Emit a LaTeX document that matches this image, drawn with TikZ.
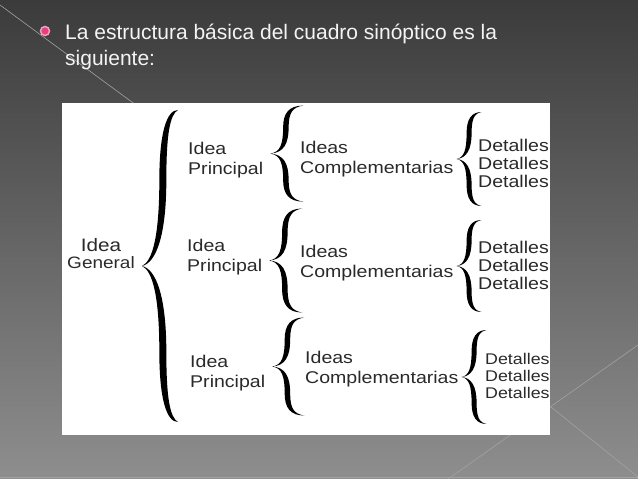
\documentclass[tikz,border=0pt]{standalone}
\usepackage{fontspec}
\setmainfont{Liberation Sans}
\newfontfamily\chartfont[FakeStretch=1.15]{Liberation Sans}
\usetikzlibrary{calc}
\definecolor{bgtop}{HTML}{3B3B3B}
\definecolor{bgbot}{HTML}{8E8E8E}
\definecolor{linegray}{HTML}{A2A2A2}
\definecolor{titlecol}{HTML}{F4F4F4}
\definecolor{chartgray}{HTML}{2A2A2A}
\definecolor{bulletpink}{HTML}{E43F7E}
\tikzset{
  % slide text and chart text
  title text/.style={inner sep=0,anchor=west,align=left,text=titlecol,font=\fontsize{21}{26}\selectfont},
  chart text/.style={inner sep=0,anchor=west,align=left,text=chartgray,font=\chartfont\fontsize{17}{20}\selectfont},
  detail text/.style={chart text,font=\chartfont\fontsize{17}{18}\selectfont},
  bullet/.style={circle,fill=bulletpink,draw=bulletpink!50!white,line width=1.5pt,minimum size=9pt,inner sep=0},
  % curly brace with its tip at the origin: width, half height, stem, stem place
  pics/curly/.style n args={4}{code={
    \fill[black] (#1,-#2)
      .. controls ({(#4+0.1)*#1},{-#2}) and ({#4*#1-0.5*#3},{-0.85*#2}) .. ({#4*#1-0.5*#3},{-0.55*#2})
      .. controls ({#4*#1-0.5*#3},{-0.2*#2}) and ({0.3*#1},{-0.03*#2}) .. (0,0)
      .. controls ({0.3*#1},{0.03*#2}) and ({#4*#1-0.5*#3},{0.2*#2}) .. ({#4*#1-0.5*#3},{0.55*#2})
      .. controls ({#4*#1-0.5*#3},{0.85*#2}) and ({(#4+0.1)*#1},{#2}) .. (#1,#2)
      .. controls ({(#4+0.2)*#1},{0.97*#2}) and ({#4*#1+0.5*#3},{0.85*#2}) .. ({#4*#1+0.5*#3},{0.55*#2})
      .. controls ({#4*#1+0.5*#3},{0.2*#2}) and ({0.4*#1},{0.02*#2}) .. (0,0)
      .. controls ({0.4*#1},{-0.02*#2}) and ({#4*#1+0.5*#3},{-0.2*#2}) .. ({#4*#1+0.5*#3},{-0.55*#2})
      .. controls ({#4*#1+0.5*#3},{-0.85*#2}) and ({(#4+0.2)*#1},{-0.97*#2}) .. (#1,-#2)
      -- cycle;
  }}
}

\begin{document}
\begin{tikzpicture}[x=1pt,y=-1pt]
  \useasboundingbox (0,0) rectangle (638,479);
  % slide background
  \shade[top color=bgtop,bottom color=bgbot] (0,0) rectangle (638,479);
  \draw[linegray,line width=0.6pt] (0,5) -- (140,108);
  \draw[linegray,line width=0.6pt] (638,345) -- (448,479);
  \draw[linegray,line width=0.6pt] (500,366) -- (638,477);
  \draw[linegray,line width=0.8pt] (0,477.5) -- (638,477.5);
  % bullet point
  \node[bullet] (dot) at (45,31) {};
  \node[title text] (title) at (65,47.4) {La estructura básica del cuadro sinóptico es la\\siguiente:};
  % the chart
  \fill[white] (62,103) rectangle (550,435);
  \node[chart text,anchor=center,align=center] (gen) at (101,254)
    {{\fontsize{18}{18}\selectfont Idea}\\[-3pt]{\fontsize{16.5}{16}\selectfont General}};
  \node[chart text] (p1) at (188,160.6) {Idea\\Principal};
  \node[chart text] (p2) at (187,257.5) {Idea\\Principal};
  \node[chart text] (p3) at (190,373.5) {Idea\\Principal};
  \node[chart text] (c1) at (300,159) {Ideas\\Complementarias};
  \node[chart text] (c2) at (300,263) {Ideas\\Complementarias};
  \node[chart text] (c3) at (305,369) {Ideas\\Complementarias};
  \node[detail text] (d1) at (478,163.5) {Detalles\\Detalles\\Detalles};
  \node[detail text] (d2) at (478,265.5) {Detalles\\Detalles\\Detalles};
  \node[detail text,font=\chartfont\fontsize{15.5}{17}\selectfont] (d3) at (485,376) {Detalles\\Detalles\\Detalles};
  % braces
  \pic at ([xshift=7pt,yshift=-12pt]gen.east) {curly={36}{156}{7}{0.58}};
  \pic at ([xshift=7pt,yshift=7pt]p1.east) {curly={33}{48}{5.5}{0.47}};
  \pic at ([xshift=7pt,yshift=-3pt]p2.east) {curly={33}{52}{5.5}{0.47}};
  \pic at ([xshift=7pt,yshift=7pt]p3.east) {curly={32}{49}{5.5}{0.47}};
  \pic at ([xshift=3pt]c1.east) {curly={25}{47}{5}{0.5}};
  \pic at ([xshift=3pt,yshift=-3pt]c2.east) {curly={25}{46}{5}{0.5}};
  \pic at ([xshift=3pt,yshift=-8pt]c3.east) {curly={25}{47}{5}{0.5}};
\end{tikzpicture}
\end{document}
